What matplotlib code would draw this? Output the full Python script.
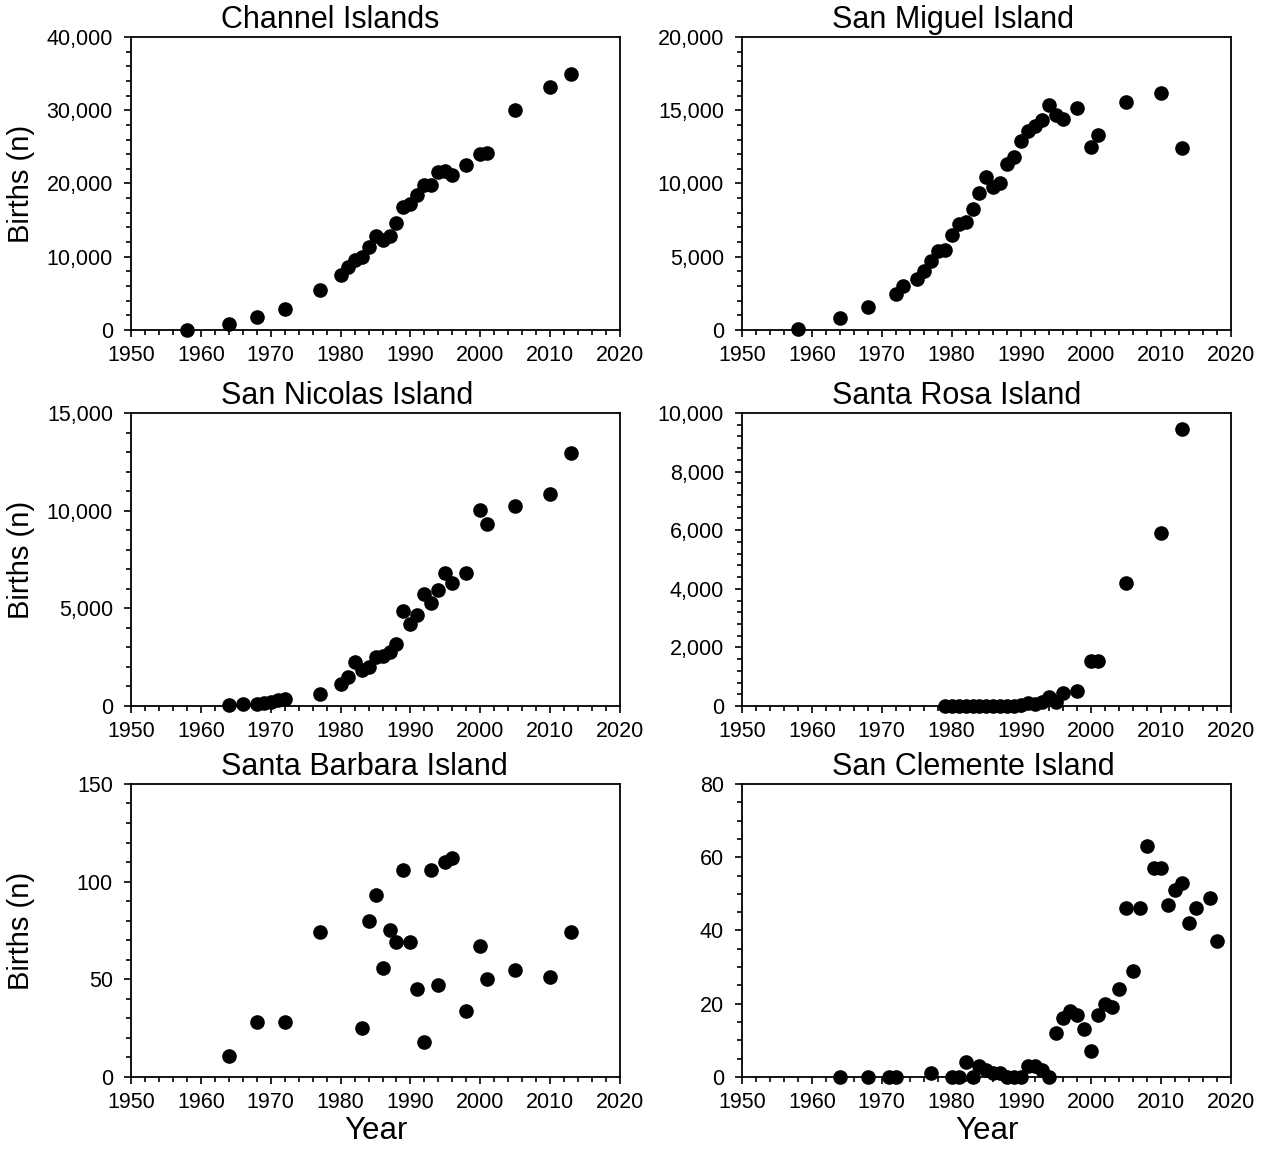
import matplotlib
matplotlib.use('Agg')
import matplotlib.pyplot as plt
from matplotlib.ticker import MultipleLocator, FuncFormatter

plt.rcParams['font.family'] = ['Liberation Sans', 'DejaVu Sans']

# Channel Islands (total)
ci_years = [1958, 1964, 1968, 1972, 1977, 1980, 1981, 1982, 1983, 1984, 1985, 1986, 1987, 1988,
            1989, 1990, 1991, 1992, 1993, 1994, 1995, 1996, 1998, 2000, 2001, 2005, 2010, 2013]
ci_births = [0, 820, 1730, 2820, 5470, 7520, 8660, 9570, 10020, 11340, 12890, 12300, 12850, 14580,
             16720, 17220, 18360, 19730, 19770, 21590, 21690, 21180, 22550, 24010, 24190, 30070, 33170, 34990]

# San Miguel Island
smi_years = [1958, 1964, 1968, 1972, 1973, 1975, 1976, 1977, 1978, 1979, 1980, 1981, 1982, 1983,
             1984, 1985, 1986, 1987, 1988, 1989, 1990, 1991, 1992, 1993, 1994, 1995, 1996, 1998,
             2000, 2001, 2005, 2010, 2013]
smi_births = [50, 840, 1570, 2440, 3030, 3490, 4010, 4740, 5400, 5490, 6450, 7240, 7340, 8250,
              9320, 10430, 9750, 10050, 11340, 11780, 12870, 13580, 13920, 14330, 15380, 14650, 14370, 15170,
              12460, 13300, 15580, 16150, 12420]

# San Nicolas Island
sni_years = [1964, 1966, 1968, 1969, 1970, 1971, 1972, 1977, 1980, 1981, 1982, 1983, 1984, 1985,
             1986, 1987, 1988, 1989, 1990, 1991, 1992, 1993, 1994, 1995, 1996, 1998, 2000, 2001,
             2005, 2010, 2013]
sni_births = [50, 100, 120, 150, 190, 310, 380, 630, 1110, 1510, 2250, 1850, 2020, 2520,
              2570, 2790, 3190, 4870, 4220, 4660, 5740, 5280, 5930, 6790, 6290, 6790, 10010, 9340,
              10230, 10830, 12960]

# Santa Rosa Island
sri_years = [1979, 1980, 1981, 1982, 1983, 1984, 1985, 1986, 1987, 1988, 1989, 1990, 1991, 1992,
             1993, 1994, 1995, 1996, 1998, 2000, 2001, 2005, 2010, 2013]
sri_births = [0, 0, 0, 0, 0, 0, 0, 0, 0, 0, 5, 20, 90, 60,
              150, 320, 150, 430, 500, 1540, 1550, 4210, 5920, 9440]

# Santa Barbara Island
sbi_years = [1964, 1968, 1972, 1977, 1983, 1984, 1985, 1986, 1987, 1988, 1989, 1990, 1991, 1992,
             1993, 1994, 1995, 1996, 1998, 2000, 2001, 2005, 2010, 2013]
sbi_births = [11, 28, 28, 74, 25, 80, 93, 56, 75, 69, 106, 69, 45, 18,
              106, 47, 110, 112, 34, 67, 50, 55, 51, 74]

# San Clemente Island
sci_years = [1964, 1968, 1971, 1972, 1977, 1980, 1981, 1982, 1983, 1984, 1985, 1986, 1987, 1988,
             1989, 1990, 1991, 1992, 1993, 1994, 1995, 1996, 1997, 1998, 1999, 2000, 2001, 2002,
             2003, 2004, 2005, 2006, 2007, 2008, 2009, 2010, 2011, 2012, 2013, 2014, 2015, 2017, 2018]
sci_births = [0, 0, 0, 0, 1, 0, 0, 4, 0, 3, 2, 1, 1, 0,
              0, 0, 3, 3, 2, 0, 12, 16, 18, 17, 13, 7, 17, 20,
              19, 24, 46, 29, 46, 63, 57, 57, 47, 51, 53, 42, 46, 49, 37]

panels = [
    ('Channel Islands', ci_years, ci_births, 40000, 10000, 2000),
    ('San Miguel Island', smi_years, smi_births, 20000, 5000, 1000),
    ('San Nicolas Island', sni_years, sni_births, 15000, 5000, 1000),
    ('Santa Rosa Island', sri_years, sri_births, 10000, 2000, 400),
    ('Santa Barbara Island', sbi_years, sbi_births, 150, 50, 10),
    ('San Clemente Island', sci_years, sci_births, 80, 20, 5),
]

fig = plt.figure(figsize=(12.67, 11.51), dpi=100)

lefts = [0.1034, 0.5856]
bottoms = [0.7133, 0.3866, 0.0643]
w, h = 0.386, 0.2546

for i, (title, yrs, vals, ymax, major, minor) in enumerate(panels):
    row, col = i // 2, i % 2
    ax = fig.add_axes([lefts[col], bottoms[row], w, h])
    ax.plot(yrs, vals, 'o', color='black', ms=9.5, clip_on=False, zorder=3)
    ax.set_xlim(1950, 2020)
    ax.set_ylim(0, ymax)
    ax.xaxis.set_major_locator(MultipleLocator(10))
    ax.xaxis.set_minor_locator(MultipleLocator(2))
    ax.yaxis.set_major_locator(MultipleLocator(major))
    ax.yaxis.set_minor_locator(MultipleLocator(minor))
    ax.yaxis.set_major_formatter(FuncFormatter(lambda v, p: '{:,.0f}'.format(v)))
    ax.tick_params(which='major', direction='out', length=5, width=1.2, labelsize=15.5)
    ax.tick_params(axis='y', which='major', pad=8)
    ax.tick_params(axis='x', which='major', pad=6)
    ax.tick_params(which='minor', direction='out', length=3.5, width=1.2)
    for s in ax.spines.values():
        s.set_linewidth(1.3)
    # titles sit left of centre in the original layout
    ax.text(0.185, 1.03, title, transform=ax.transAxes, fontsize=22,
            ha='left', va='baseline')
    if col == 0:
        ax.set_ylabel('Births (n)', fontsize=21)
        ax.yaxis.set_label_coords(-0.197, 0.5)
    if row == 2:
        ax.set_xlabel('Year', fontsize=22.5, labelpad=2)

fig.savefig('out.png', dpi=100)
